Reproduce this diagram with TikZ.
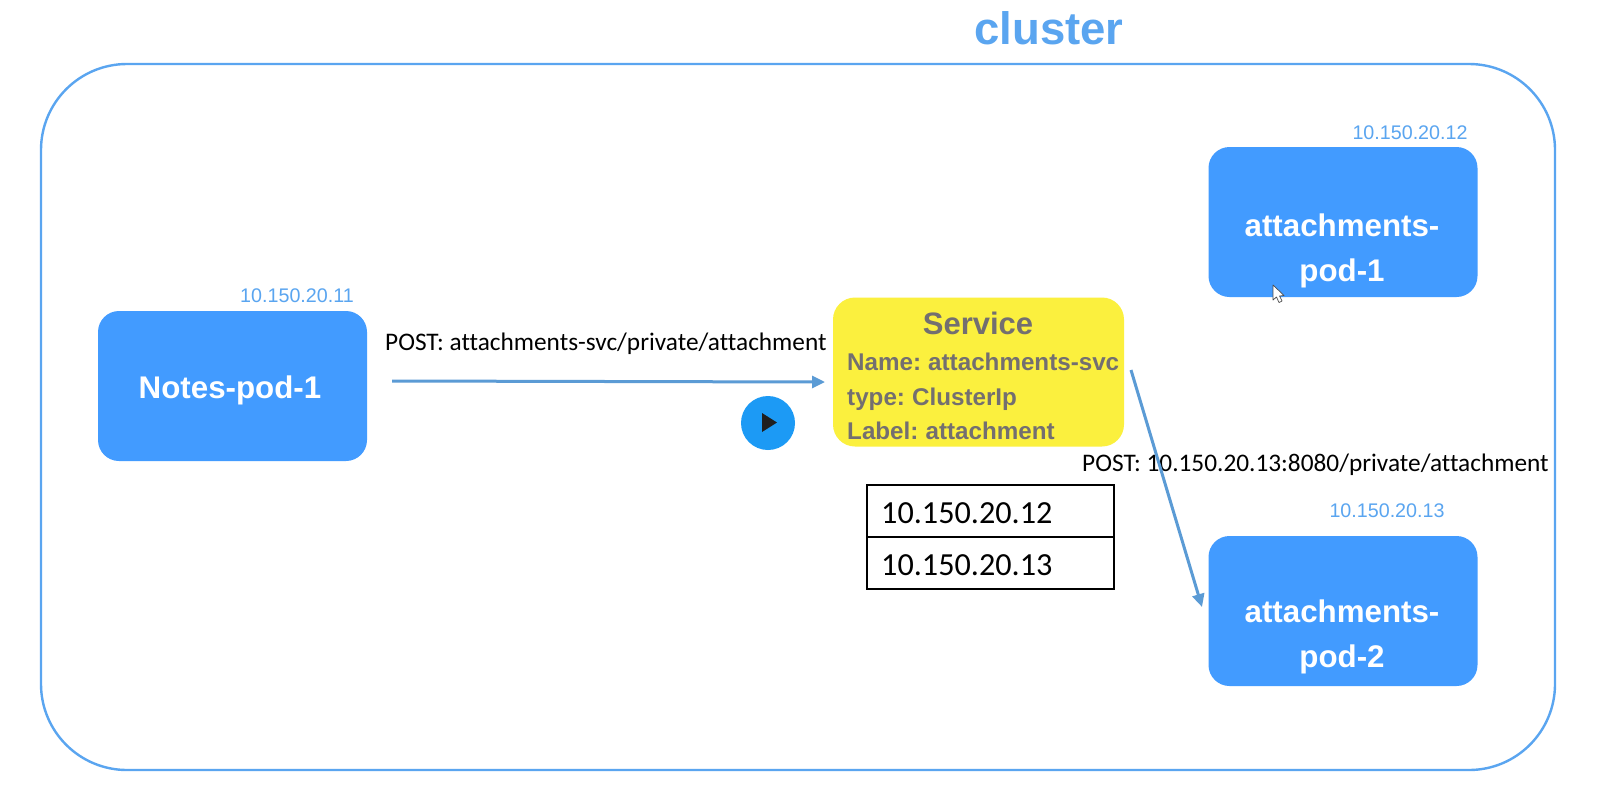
\documentclass[tikz,border=0pt]{standalone}
\usepackage{fontspec}
\setmainfont{Liberation Sans}
\newfontfamily\calfont[Ligatures=NoCommon]{Carlito}
\newfontfamily\svcfont[WordSpace=0.72]{Liberation Sans}
\usetikzlibrary{arrows.meta}
\definecolor{podblue}{HTML}{429BFF}
\definecolor{ipblue}{HTML}{5AA5F0}
\definecolor{linkblue}{HTML}{5B9BD5}
\definecolor{svcyellow}{HTML}{FBF03E}
\definecolor{svcgray}{HTML}{736F70}
\definecolor{playblue}{HTML}{1C9AF5}
\tikzset{
  x=1pt,y=-1pt,
  podbox/.style={draw=none,fill=podblue,rounded corners=21pt,minimum width=269pt,minimum height=150pt,inner sep=0pt},
  podtext/.style={text=white,font=\fontsize{31.3}{31.3}\selectfont\bfseries,anchor=base,inner sep=0pt},
  iptext/.style={text=ipblue,font=\fontsize{19.7}{19.7}\selectfont,anchor=base,inner sep=0pt},
  posttext/.style={text=black,font=\calfont\fontsize{25.3}{25.3}\selectfont,anchor=base west,inner sep=0pt},
  svctext/.style={text=svcgray,font=\svcfont\fontsize{24.2}{24.2}\selectfont\bfseries,anchor=base west,inner sep=0pt},
  cell/.style={draw=black,line width=1.6pt,minimum width=247pt,minimum height=52pt,inner sep=0pt},
  celltext/.style={text=black,font=\calfont\fontsize{32.2}{32.2}\selectfont,anchor=base west,inner sep=0pt},
  link/.style={draw=linkblue,line width=3pt,-{Stealth[length=13pt,width=12pt,inset=0pt]}},
}
\begin{document}
\begin{tikzpicture}
\useasboundingbox (0,0) rectangle (1602,801);
\fill[white] (0,0) rectangle (1602,801);
\node[draw=ipblue,line width=2.4pt,rounded corners=86pt,minimum width=1514pt,minimum height=706pt,inner sep=0pt] (cluster) at (798,417) {};
\node[text=ipblue,font=\fontsize{45.5}{45.5}\selectfont\bfseries,anchor=base,inner sep=0pt] (title) at (1049,44) {cluster};

\node[podbox] (notes) at (232.5,386) {};
\node[podbox] (pod1) at (1343,222) {};
\node[podbox] (pod2) at (1343,611) {};
\node[draw=none,fill=svcyellow,rounded corners=22pt,minimum width=291pt,minimum height=149pt,inner sep=0pt] (svc) at (978.5,372) {};

\node[podtext] (notest) at (230,398) {Notes-pod-1};
\node[podtext] (pod1a) at (1342,236) {attachments-};
\node[podtext] (pod1b) at (1342,281) {pod-1};
\node[podtext] (pod2a) at (1342,622) {attachments-};
\node[podtext] (pod2b) at (1342,667) {pod-2};

\node[iptext] (ip1) at (297,302) {10.150.20.11};
\node[iptext] (ip2) at (1410,139) {10.150.20.12};
\node[iptext] (ip3) at (1387,517) {10.150.20.13};

\node[text=svcgray,font=\fontsize{31}{31}\selectfont\bfseries,anchor=base,inner sep=0pt] (svct) at (978,334) {Service};
\node[svctext] (svcn) at (847,370) {Name: attachments-svc};
\node[svctext] (svcy) at (847,405) {type: ClusterIp};
\node[svctext] (svcl) at (847,439) {Label: attachment};

\node[posttext] (post1) at (385,350) {POST: attachments-svc/private/attachment};
\node[posttext] (post2) at (1082,471) {POST: 10.150.20.13:8080/private/attachment};

\node[cell,anchor=north west] (row1) at (866,484) {};
\node[cell,anchor=north west] (row2) at (866,536) {};
\node[celltext] (row1t) at (881,523) {10.150.20.12};
\node[celltext] (row2t) at (881,575) {10.150.20.13};

\coordinate (a1s) at (392,381);
\coordinate (a1e) at (825,382);
\coordinate (a2s) at (1131,370);
\coordinate (a2e) at (1202,607);
\draw[link] (a1s) -- (a1e);
\draw[link] (a2s) -- (a2e);

\node[circle,fill=playblue,minimum size=54pt,inner sep=0pt] (play) at (768,423) {};
\fill[black!88] (762,413) -- (777,422.5) -- (762,432) -- cycle;
\draw[fill=white,draw=black!70,line width=0.7pt,line join=round] (1273,285) -- (1273,300) -- (1276.5,297) -- (1279,302.5) -- (1282,301) -- (1279.5,296) -- (1284,295.5) -- cycle;
\end{tikzpicture}
\end{document}
